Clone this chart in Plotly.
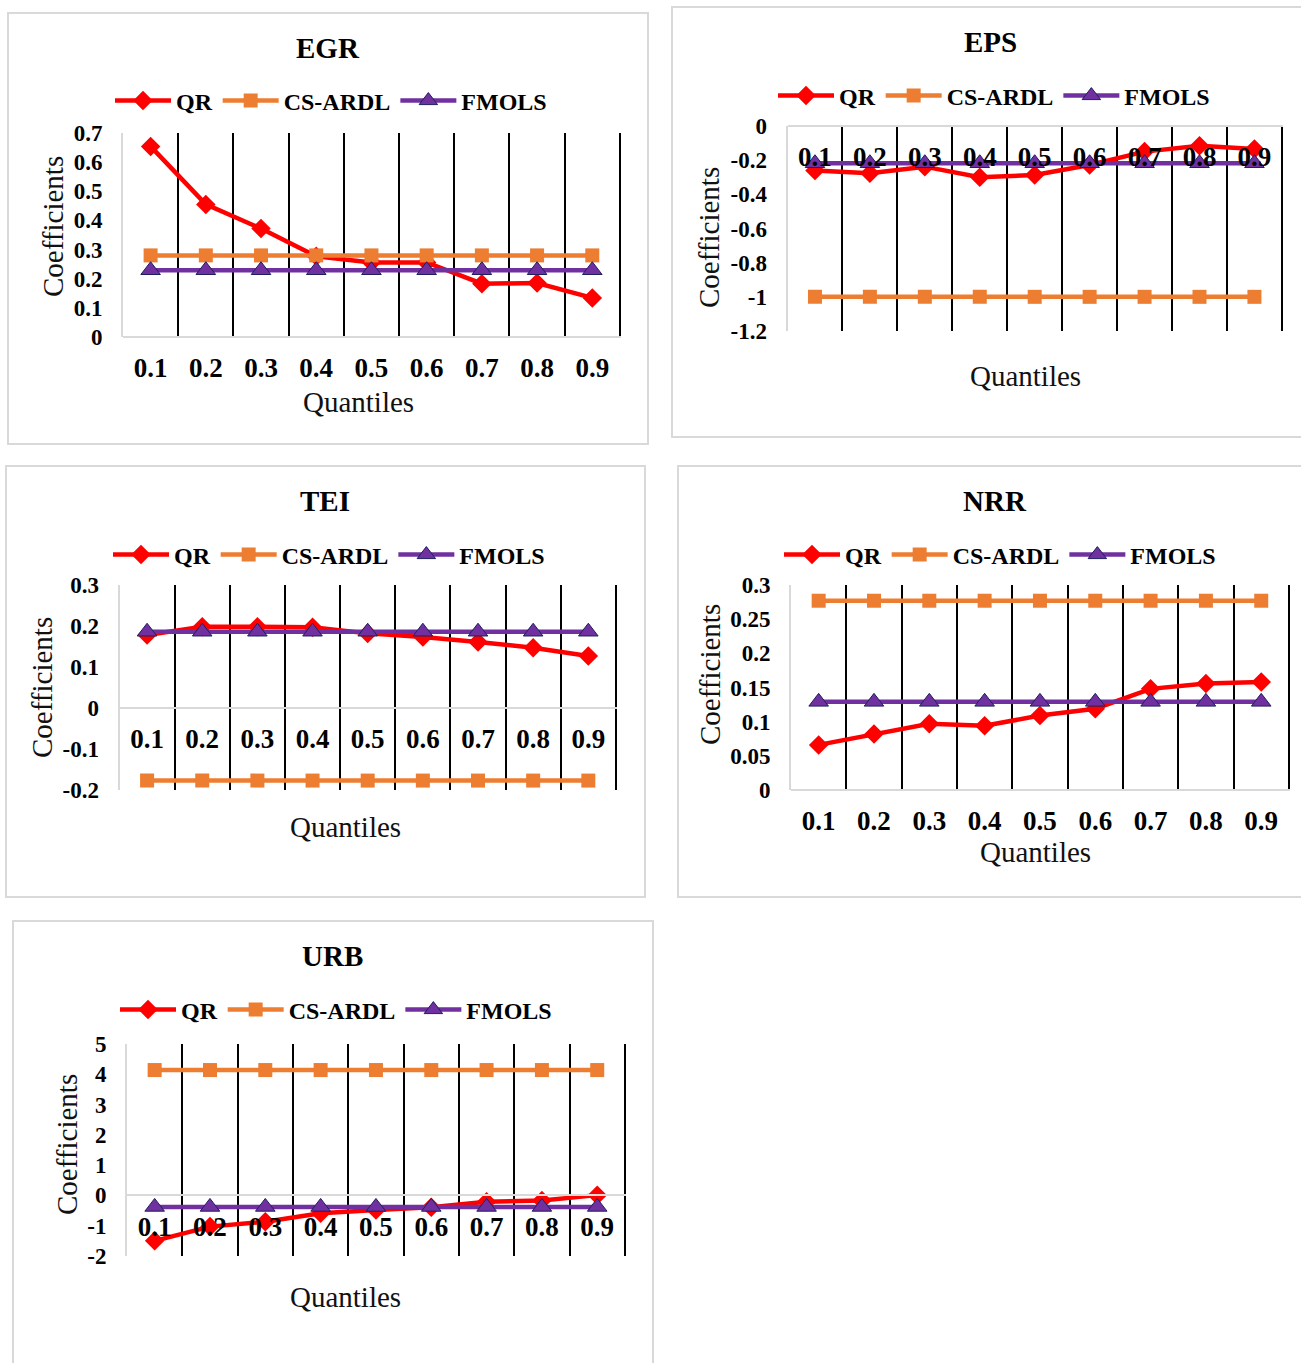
import plotly.graph_objects as go

W, H = 1301, 1363

# ---------------- data ----------------
quantiles = [0.1, 0.2, 0.3, 0.4, 0.5, 0.6, 0.7, 0.8, 0.9]
quantile_labels = ["0.1", "0.2", "0.3", "0.4", "0.5", "0.6", "0.7", "0.8", "0.9"]
series_names = ["QR", "CS-ARDL", "FMOLS"]

egr_qr = [0.654, 0.455, 0.372, 0.277, 0.256, 0.256, 0.183, 0.185, 0.134]
egr_csardl = [0.28, 0.28, 0.28, 0.28, 0.28, 0.28, 0.28, 0.28, 0.28]
egr_fmols = [0.229, 0.229, 0.229, 0.229, 0.229, 0.229, 0.229, 0.229, 0.229]
egr_yticks = [0, 0.1, 0.2, 0.3, 0.4, 0.5, 0.6, 0.7]

eps_qr = [-0.261, -0.277, -0.238, -0.300, -0.287, -0.228, -0.150, -0.115, -0.135]
eps_csardl = [-1.0, -1.0, -1.0, -1.0, -1.0, -1.0, -1.0, -1.0, -1.0]
eps_fmols = [-0.218, -0.218, -0.218, -0.218, -0.218, -0.218, -0.218, -0.218, -0.218]
eps_yticks = [0, -0.2, -0.4, -0.6, -0.8, -1, -1.2]

tei_qr = [0.178, 0.198, 0.198, 0.197, 0.182, 0.173, 0.161, 0.147, 0.127]
tei_csardl = [-0.177, -0.177, -0.177, -0.177, -0.177, -0.177, -0.177, -0.177, -0.177]
tei_fmols = [0.186, 0.186, 0.186, 0.186, 0.186, 0.186, 0.186, 0.186, 0.186]
tei_yticks = [0.3, 0.2, 0.1, 0, -0.1, -0.2]

nrr_qr = [0.066, 0.082, 0.097, 0.094, 0.109, 0.119, 0.148, 0.156, 0.158]
nrr_csardl = [0.277, 0.277, 0.277, 0.277, 0.277, 0.277, 0.277, 0.277, 0.277]
nrr_fmols = [0.129, 0.129, 0.129, 0.129, 0.129, 0.129, 0.129, 0.129, 0.129]
nrr_yticks = [0, 0.05, 0.1, 0.15, 0.2, 0.25, 0.3]

urb_qr = [-1.50, -1.03, -0.87, -0.59, -0.48, -0.39, -0.21, -0.17, 0.01]
urb_csardl = [4.14, 4.14, 4.14, 4.14, 4.14, 4.14, 4.14, 4.14, 4.14]
urb_fmols = [-0.38, -0.38, -0.38, -0.38, -0.38, -0.38, -0.38, -0.38, -0.38]
urb_yticks = [5, 4, 3, 2, 1, 0, -1, -2]

panels = [
    dict(title="EGR", qr=egr_qr, cs=egr_csardl, fm=egr_fmols, yticks=egr_yticks),
    dict(title="EPS", qr=eps_qr, cs=eps_csardl, fm=eps_fmols, yticks=eps_yticks),
    dict(title="TEI", qr=tei_qr, cs=tei_csardl, fm=tei_fmols, yticks=tei_yticks),
    dict(title="NRR", qr=nrr_qr, cs=nrr_csardl, fm=nrr_fmols, yticks=nrr_yticks),
    dict(title="URB", qr=urb_qr, cs=urb_csardl, fm=urb_fmols, yticks=urb_yticks),
]

# ---------------- layout (pixel positions) ----------------
layout_px = [
    dict(plot=(123, 621, 133, 337), frame=(8, 13, 648, 444), title=(328, 48),
         legend=(331, 101), ytitle=(53, 227), xtitle=(358, 402)),
    dict(plot=(787.5, 1283, 126, 331), frame=(672, 7, 1306, 437), title=(990, 42),
         legend=(994, 96), ytitle=(709, 238), xtitle=(1025, 376)),
    dict(plot=(119.5, 617, 585, 790), frame=(6, 466, 645, 897), title=(325, 501),
         legend=(329, 555), ytitle=(42, 688), xtitle=(345, 827)),
    dict(plot=(791, 1290, 585, 790), frame=(678, 466, 1306, 897), title=(995, 501),
         legend=(1000, 555), ytitle=(710, 675), xtitle=(1035, 852)),
    dict(plot=(127, 626, 1044, 1256), frame=(13, 921, 653, 1368), title=(332, 956),
         legend=(336, 1010), ytitle=(67, 1145), xtitle=(345, 1297)),
]

SERIF = "Liberation Serif, Times New Roman, serif"
RED, ORANGE, PURPLE = "#FF0000", "#ED7D31", "#7030A0"
GRID = "#000000"
LIGHT = "#D9D9D9"


def px(x):
    return x / W


def py(y):
    return 1 - y / H


fig = go.Figure()
shapes, annotations = [], []
layout = dict(template="none", width=W, height=H, margin=dict(l=0, r=0, t=0, b=0, pad=0),
              paper_bgcolor="white", plot_bgcolor="white", showlegend=True)

half = (quantiles[1] - quantiles[0]) / 2
boundaries = [(a + b) / 2 for a, b in zip(quantiles[:-1], quantiles[1:])] + [quantiles[-1] + half]

for i, (p, L) in enumerate(zip(panels, layout_px), start=1):
    sfx = "" if i == 1 else str(i)
    xa, ya, lg = "x" + sfx, "y" + sfx, "legend" + sfx
    ymin, ymax = min(p["yticks"]), max(p["yticks"])
    x0, x1, y0, y1 = L["plot"]
    d_lo, d_hi = py(y1), py(y0)
    zero_pos = d_lo + (0 - ymin) / (ymax - ymin) * (d_hi - d_lo)

    common = dict(x=quantiles, xaxis=xa, yaxis=ya, legend=lg, mode="lines+markers")
    fig.add_trace(go.Scatter(y=p["qr"], name=series_names[0],
                             line=dict(color=RED, width=4.5),
                             marker=dict(symbol="diamond", size=15, color=RED), **common))
    fig.add_trace(go.Scatter(y=p["cs"], name=series_names[1],
                             line=dict(color=ORANGE, width=4.5),
                             marker=dict(symbol="square", size=14, color=ORANGE), **common))
    fig.add_trace(go.Scatter(y=p["fm"], name=series_names[2],
                             line=dict(color=PURPLE, width=4.5),
                             marker=dict(symbol="triangle-up", size=17, color=PURPLE,
                                         line=dict(color="#1F1F5F", width=1)), **common))

    layout["xaxis" + sfx] = dict(
        domain=[px(x0), px(x1)],
        range=[quantiles[0] - half, quantiles[-1] + half * 1.04],
        tickvals=quantiles, ticktext=quantile_labels, ticks="",
        showgrid=False, zeroline=False, automargin=False,
        minor=dict(tickvals=boundaries, showgrid=True, gridcolor=GRID, gridwidth=2, ticks=""),
        showline=True, linecolor=LIGHT, linewidth=2,
        anchor="free", position=zero_pos, side="bottom",
        tickfont=dict(family=SERIF, size=27, color="black", weight="bold"),
        ticklabelstandoff=7, fixedrange=True,
    )
    layout["yaxis" + sfx] = dict(
        domain=[d_lo, d_hi], range=[ymin, ymax],
        tickvals=p["yticks"], ticktext=[f"{v:g}" for v in p["yticks"]], ticks="",
        showgrid=False, zeroline=False, automargin=False,
        showline=True, linecolor=LIGHT, linewidth=2, anchor=xa,
        tickfont=dict(family=SERIF, size=23, color="black", weight="bold"),
        ticklabelstandoff=14, fixedrange=True,
    )
    lx, ly = L["legend"]
    layout[lg] = dict(orientation="h", x=px(lx), y=py(ly), xanchor="center", yanchor="middle",
                      xref="paper", yref="paper", bgcolor="rgba(0,0,0,0)",
                      font=dict(family=SERIF, size=24, color="black", weight="bold"),
                      itemwidth=56, itemclick=False, itemdoubleclick=False)

    fx0, fy0, fx1, fy1 = L["frame"]
    shapes.append(dict(type="rect", xref="paper", yref="paper", x0=px(fx0), x1=px(fx1),
                       y0=py(fy1), y1=py(fy0), line=dict(color=LIGHT, width=2),
                       fillcolor="rgba(0,0,0,0)", layer="below"))

    tx, ty = L["title"]
    annotations.append(dict(text=p["title"], x=px(tx), y=py(ty), xref="paper", yref="paper",
                            showarrow=False, xanchor="center", yanchor="middle",
                            font=dict(family=SERIF, size=29, color="black", weight="bold")))
    ax_, ay_ = L["ytitle"]
    annotations.append(dict(text="Coefficients", x=px(ax_), y=py(ay_), xref="paper", yref="paper",
                            showarrow=False, textangle=-90, xanchor="center", yanchor="middle",
                            font=dict(family=SERIF, size=29, color="#111111")))
    qx, qy = L["xtitle"]
    annotations.append(dict(text="Quantiles", x=px(qx), y=py(qy), xref="paper", yref="paper",
                            showarrow=False, xanchor="center", yanchor="middle",
                            font=dict(family=SERIF, size=29, color="#111111")))

layout["shapes"] = shapes
layout["annotations"] = annotations
fig.update_layout(**layout)
fig.write_html("out.html", config={"displayModeBar": False},
               post_script="document.body.style.margin='0px';")
